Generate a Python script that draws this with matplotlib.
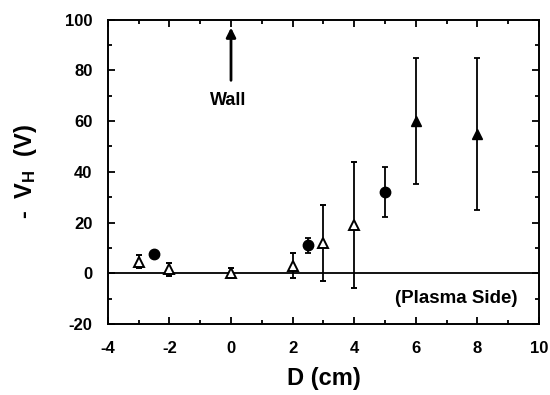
import matplotlib
matplotlib.use("Agg")
import matplotlib.pyplot as plt
from matplotlib.ticker import MultipleLocator

plt.rcParams['font.family'] = ['Liberation Sans', 'DejaVu Sans']
plt.rcParams['font.weight'] = 'bold'
plt.rcParams['axes.unicode_minus'] = False
plt.rcParams['mathtext.fontset'] = 'custom'
plt.rcParams['mathtext.rm'] = 'Liberation Sans:bold'
plt.rcParams['mathtext.it'] = 'Liberation Sans:bold'

# Open triangles
tri_open_d = [-3, -2, 0, 2, 3, 4]
tri_open_v = [4.5, 1.5, 0, 3, 12, 19]
tri_open_err = [2.5, 2.5, 2, 5, 15, 25]

# Filled triangles
tri_fill_d = [6, 8]
tri_fill_v = [60, 55]
tri_fill_err = [25, 30]

# Filled circles
circ_d = [-2.5, 2.5, 5]
circ_v = [7.6, 11, 32]
circ_err = [1, 3, 10]

fig = plt.figure(figsize=(5.5, 3.95), dpi=100)
ax = fig.add_axes([0.196, 0.180, 0.784, 0.770])

ax.axhline(0, color='black', lw=1.3, zorder=1)

common = dict(ecolor='black', elinewidth=1.3, capsize=2, capthick=1.3, linestyle='none', zorder=3)
ax.errorbar(tri_open_d, tri_open_v, yerr=tri_open_err, marker='^', ms=6.5,
            mfc='white', mec='black', mew=1.4, **common)
ax.errorbar(tri_fill_d, tri_fill_v, yerr=tri_fill_err, marker='^', ms=6.5,
            mfc='black', mec='black', **common)
ax.errorbar(circ_d, circ_v, yerr=circ_err, marker='o', ms=7.5,
            mfc='black', mec='black', **common)

# Wall marker
ax.annotate('', xy=(0, 98), xytext=(0, 75),
            arrowprops=dict(arrowstyle='-|>', color='black', lw=2, mutation_scale=14))
ax.text(-0.1, 68, 'Wall', ha='center', va='center', fontsize=13, fontweight='bold')
ax.text(9.3, -10, '(Plasma Side)', ha='right', va='center', fontsize=13.5, fontweight='bold')

ax.set_xlim(-4, 10)
ax.set_ylim(-20, 100)
ax.xaxis.set_major_locator(MultipleLocator(2))
ax.xaxis.set_minor_locator(MultipleLocator(1))
ax.yaxis.set_major_locator(MultipleLocator(20))
ax.yaxis.set_minor_locator(MultipleLocator(10))
ax.tick_params(which='both', direction='in', top=True, right=True, width=1.3)
ax.tick_params(which='major', length=5, labelsize=12)
ax.tick_params(which='minor', length=3)
ax.tick_params(axis='x', which='major', pad=12)
ax.tick_params(axis='y', which='major', pad=11)
for lab in ax.get_xticklabels() + ax.get_yticklabels():
    lab.set_fontweight('bold')
for s in ax.spines.values():
    s.set_linewidth(1.4)

ax.set_xlabel('D (cm)', fontsize=17, fontweight='bold', labelpad=8)
ax.set_ylabel(r'-  V$_\mathrm{H}$  (V)', fontsize=17, fontweight='bold', labelpad=19)

fig.savefig('out.png', dpi=100)
